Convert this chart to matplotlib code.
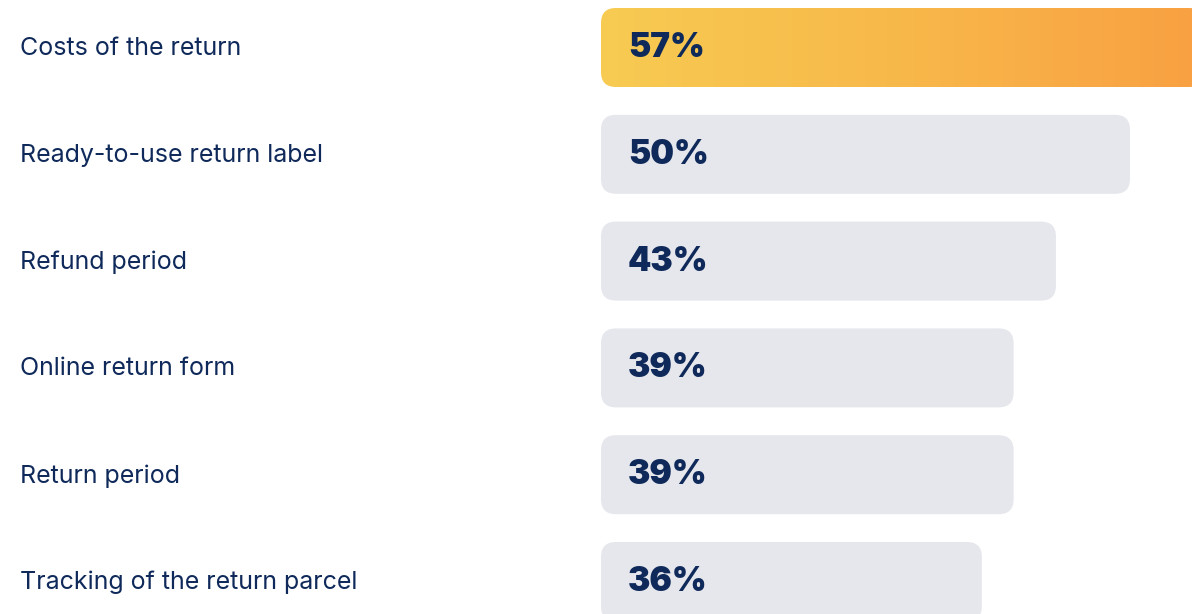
import numpy as np
import matplotlib
matplotlib.use("Agg")
import matplotlib.pyplot as plt
from matplotlib.patches import FancyBboxPatch
from matplotlib.colors import LinearSegmentedColormap
import matplotlib.transforms as mtransforms

# Return features rated as important (share of respondents, %)
categories = [
    "Costs of the return",
    "Ready-to-use return label",
    "Refund period",
    "Online return form",
    "Return period",
    "Tracking of the return parcel",
]
values = [57, 50, 43, 39, 39, 36]

NAVY = "#0f2a5a"
GREY_BAR = "#e6e7ec"
grad = LinearSegmentedColormap.from_list("warm", ["#f7cb52", "#f8b84a", "#f9a042"])

plt.rcParams["font.family"] = ["Inter", "DejaVu Sans"]

W, H, DPI = 1192, 614, 100
fig = plt.figure(figsize=(W / DPI, H / DPI), dpi=DPI)
fig.patch.set_facecolor("white")

# bar area: starts at 601 px, 10.58 px per percent point, 106.8 px per row
px_per_pct = 10.58
row_px = 106.8
left_px = 601
ax = fig.add_axes([left_px / W, 0, 1 - left_px / W, 1])
ax.set_xlim(0, (W - left_px) / px_per_pct)
ax.set_ylim((H - 47.5) / row_px, -47.5 / row_px)
ax.axis("off")

bar_h = 79 / row_px
radius_px = 15
rounding = radius_px / px_per_pct
aspect = px_per_pct / row_px
trans = mtransforms.blended_transform_factory(fig.transFigure, ax.transData)

for i, (cat, v) in enumerate(zip(categories, values)):
    y0 = i - bar_h / 2
    box = FancyBboxPatch(
        (0, y0), v, bar_h,
        boxstyle=f"round,pad=0,rounding_size={rounding}",
        mutation_aspect=aspect,
        facecolor=GREY_BAR, edgecolor="none", zorder=1,
    )
    ax.add_patch(box)
    if i == 0:
        # highlighted top bar with a left-to-right warm gradient
        box.set_facecolor("none")
        g = np.linspace(0, 1, 256).reshape(1, -1)
        im = ax.imshow(g, cmap=grad, aspect="auto",
                       extent=(0, v, y0 + bar_h, y0), zorder=1,
                       interpolation="bilinear")
        im.set_clip_path(box)
    ax.text(27 / px_per_pct, i + 0.005, f"{v}%", ha="left", va="center",
            fontsize=24, fontweight="black", color=NAVY, zorder=3)

    ax.text(20 / W, i + 0.01, cat, transform=trans, ha="left", va="center",
            fontsize=18, color=NAVY, clip_on=False)

fig.savefig("out.png", dpi=DPI)
